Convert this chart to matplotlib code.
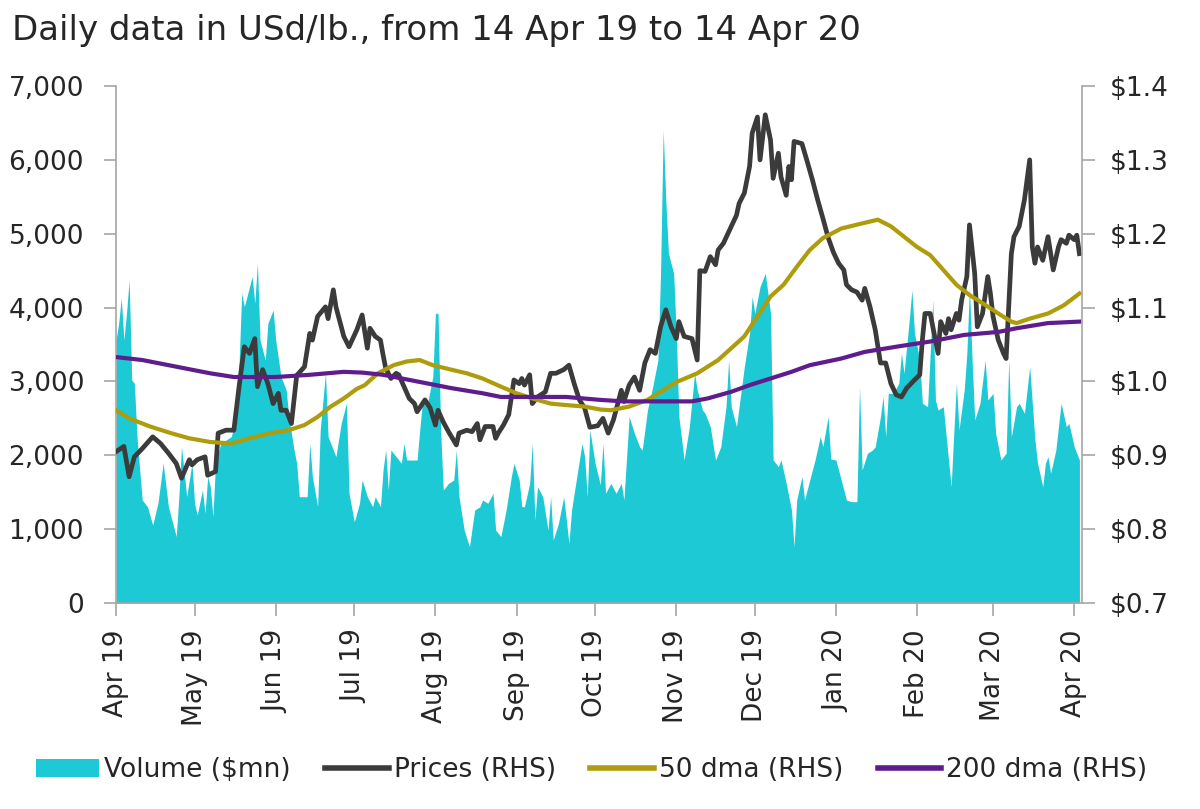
import matplotlib
matplotlib.use("Agg")
import matplotlib.pyplot as plt
from matplotlib.ticker import FuncFormatter, FixedLocator
from matplotlib.patches import Patch
from matplotlib.lines import Line2D
import pandas as pd

# days counted from 14 Apr 2019
start = pd.Timestamp("2019-04-14")

vol_day = [0, 1, 2, 3, 4, 5, 6, 7, 8, 10, 12, 14, 16, 18, 20, 21, 23, 24, 25, 27,
           29, 30, 31, 33, 34, 35, 36, 37, 38, 40, 42, 44, 45, 47, 48, 49, 51, 52, 53, 54,
           55, 57, 58, 60, 61, 63, 65, 66, 68, 69, 70, 73, 74, 75, 77, 78, 80, 81, 83, 84,
           86, 88, 89, 91, 93, 94, 96, 98, 99, 101, 102, 103, 104, 105, 107, 109, 110, 111, 113, 115,
           116, 117, 119, 121, 122, 123, 124, 125, 127, 129, 130, 131, 133, 135, 137, 139, 140, 142, 144, 145,
           147, 149, 151, 152, 154, 155, 156, 158, 159, 160, 161, 163, 165, 166, 167, 169, 171, 173, 174, 176,
           178, 179, 180, 181, 183, 185, 186, 187, 189, 191, 193, 194, 196, 198, 200, 201, 203, 205, 207, 208,
           209, 210, 211, 213, 214, 215, 217, 219, 221, 222, 224, 225, 227, 229, 231, 233, 234, 235, 237, 238,
           240, 242, 243, 244, 246, 248, 250, 251, 253, 254, 256, 258, 259, 260, 262, 263, 265, 267, 269, 270,
           272, 273, 275, 277, 279, 281, 283, 284, 285, 287, 289, 290, 292, 293, 294, 295, 297, 299, 300, 301,
           303, 304, 305, 307, 308, 310, 312, 313, 314, 316, 317, 319, 320, 321, 322, 324, 325, 326, 327, 328,
           330, 332, 333, 335, 336, 338, 340, 341, 342, 344, 345, 347, 349, 351, 352, 354, 355, 356, 357, 359,
           361, 363, 364, 366, 368]
volume = [3560, 3787, 4126, 3560, 3922, 4373, 3019, 2975, 2252, 1395, 1304, 1056, 1350, 1892, 1304, 1169, 899, 1439, 2116, 1439,
          1892, 1350, 1192, 1530, 1215, 1710, 1575, 1169, 1892, 2162, 2207, 2252, 2387, 3246, 4194, 4012, 4283, 4419, 4058, 4600,
          3560, 3290, 3787, 3967, 3560, 3064, 2884, 2523, 2072, 1892, 1439, 1439, 2162, 1710, 1304, 2343, 3115, 2252, 2072, 1981,
          2433, 2704, 1485, 1100, 1350, 1666, 1439, 1304, 1439, 1304, 1801, 2072, 1530, 2072, 1981, 1892, 2162, 1936, 1936, 1936,
          2343, 2704, 2704, 3064, 3922, 3922, 2343, 1530, 1620, 1666, 2072, 1439, 988, 762, 1259, 1304, 1395, 1350, 1485, 988,
          899, 1259, 1710, 1892, 1666, 1304, 1304, 1620, 2162, 1124, 1575, 1439, 988, 1439, 853, 1079, 1439, 808, 1259, 1710,
          2162, 1981, 1439, 2343, 1890, 1600, 2162, 1485, 1620, 1485, 1620, 1395, 2523, 2297, 2116, 2072, 2613, 2929, 3290, 4464,
          6404, 5457, 4735, 4464, 3652, 2523, 1936, 2387, 3110, 2884, 2613, 2568, 2387, 1936, 2116, 2658, 3290, 2658, 2387, 2658,
          3200, 3652, 4147, 3922, 4283, 4464, 3922, 1936, 1846, 1936, 1620, 1259, 762, 1395, 1710, 1395, 1666, 1936, 2252, 2116,
          2523, 1950, 1936, 1666, 1395, 1372, 1372, 2929, 1801, 2027, 2072, 2116, 2523, 2793, 2252, 2839, 2839, 2975, 3381, 3110,
          3832, 4238, 3652, 3290, 2704, 2658, 4103, 2748, 2613, 2658, 2297, 1575, 2297, 2975, 2343, 2884, 3381, 4283, 3290, 2478,
          2704, 3290, 2748, 2839, 2297, 1936, 2027, 3290, 2252, 2658, 2704, 2568, 3200, 2207, 1892, 1575, 1892, 1981, 1756, 2072,
          2704, 2387, 2433, 2116, 1936]

price_day = [0, 3, 5, 7, 10, 14, 17, 20, 23, 25, 28, 29, 31, 34, 35, 38, 39, 42, 45, 47,
             49, 51, 53, 54, 56, 58, 60, 62, 63, 65, 67, 69, 72, 74, 75, 77, 80, 81, 83, 84,
             87, 89, 92, 94, 96, 97, 99, 101, 102, 103, 105, 107, 108, 110, 112, 114, 115, 118, 120, 122,
             123, 125, 127, 130, 131, 134, 136, 138, 139, 141, 144, 145, 146, 148, 150, 152, 154, 155, 156, 158,
             159, 161, 164, 166, 168, 171, 173, 175, 177, 179, 181, 184, 186, 188, 190, 193, 194, 196, 198, 200,
             202, 204, 206, 208, 210, 212, 214, 215, 217, 220, 222, 223, 225, 227, 229, 230, 232, 235, 237, 238,
             240, 242, 243, 245, 246, 248, 250, 251, 253, 254, 256, 257, 258, 259, 262, 264, 266, 268, 270, 272,
             274, 276, 278, 279, 281, 283, 285, 286, 288, 290, 292, 294, 296, 298, 300, 302, 305, 307, 308, 309,
             311, 312, 314, 315, 317, 318, 319, 321, 322, 323, 325, 326, 328, 329, 331, 333, 334, 335, 337, 339,
             340, 342, 343, 345, 347, 349, 350, 351, 352, 354, 356, 358, 360, 361, 363, 364, 366, 367, 368]
price = [0.905, 0.912, 0.871, 0.898, 0.909, 0.925, 0.916, 0.903, 0.889, 0.869, 0.894, 0.887, 0.894, 0.898, 0.873, 0.878, 0.930, 0.934, 0.934, 0.993,
         1.047, 1.038, 1.058, 0.993, 1.016, 0.997, 0.970, 0.984, 0.961, 0.961, 0.943, 1.008, 1.020, 1.065, 1.056, 1.088, 1.101, 1.085, 1.124, 1.101,
         1.061, 1.047, 1.070, 1.090, 1.045, 1.072, 1.061, 1.056, 1.036, 1.018, 1.004, 1.011, 1.009, 0.993, 0.977, 0.970, 0.959, 0.975, 0.964, 0.941,
         0.961, 0.945, 0.932, 0.914, 0.930, 0.934, 0.932, 0.943, 0.921, 0.939, 0.939, 0.923, 0.930, 0.941, 0.955, 1.002, 0.997, 1.004, 0.995, 1.009,
         0.970, 0.979, 0.986, 1.011, 1.011, 1.016, 1.022, 0.997, 0.975, 0.964, 0.938, 0.940, 0.950, 0.930, 0.948, 0.988, 0.973, 0.995, 1.006, 0.988,
         1.025, 1.043, 1.038, 1.074, 1.097, 1.074, 1.058, 1.081, 1.061, 1.058, 1.029, 1.150, 1.149, 1.169, 1.158, 1.178, 1.187, 1.210, 1.225, 1.241,
         1.255, 1.291, 1.336, 1.358, 1.300, 1.361, 1.327, 1.275, 1.309, 1.277, 1.252, 1.291, 1.273, 1.325, 1.322, 1.298, 1.273, 1.246, 1.221, 1.195,
         1.175, 1.160, 1.151, 1.131, 1.124, 1.121, 1.110, 1.126, 1.101, 1.070, 1.025, 1.025, 0.997, 0.982, 0.979, 0.991, 1.002, 1.009, 1.056, 1.092,
         1.092, 1.074, 1.038, 1.081, 1.065, 1.085, 1.070, 1.092, 1.083, 1.110, 1.142, 1.212, 1.146, 1.074, 1.092, 1.142, 1.119, 1.088, 1.056, 1.038,
         1.031, 1.173, 1.196, 1.210, 1.246, 1.300, 1.182, 1.160, 1.182, 1.164, 1.196, 1.151, 1.182, 1.192, 1.187, 1.198, 1.192, 1.198, 1.173]

dma50_day = [0, 5, 13, 21, 28, 36, 44, 51, 59, 66, 72, 77, 82, 87, 92, 95, 100, 106, 111, 116,
             121, 128, 134, 140, 147, 153, 159, 166, 172, 179, 185, 189, 196, 203, 208, 214, 222, 230, 235, 240,
             245, 250, 255, 260, 265, 270, 277, 285, 291, 296, 301, 306, 311, 316, 321, 326, 331, 337, 342, 344,
             349, 356, 362, 368]
dma50 = [0.961, 0.950, 0.939, 0.930, 0.923, 0.918, 0.916, 0.923, 0.930, 0.934, 0.941, 0.952, 0.966, 0.977, 0.990, 0.995, 1.011, 1.022, 1.027, 1.029,
         1.022, 1.016, 1.011, 1.004, 0.993, 0.984, 0.977, 0.970, 0.968, 0.966, 0.962, 0.961, 0.966, 0.975, 0.986, 0.999, 1.011, 1.029, 1.045, 1.061,
         1.088, 1.115, 1.131, 1.155, 1.178, 1.194, 1.207, 1.214, 1.219, 1.210, 1.196, 1.182, 1.171, 1.151, 1.131, 1.117, 1.106, 1.092, 1.081, 1.079,
         1.085, 1.092, 1.103, 1.119]

dma200_day = [0, 10, 23, 36, 45, 61, 74, 87, 94, 102, 115, 128, 140, 147, 159, 172, 185, 194, 207, 220,
              226, 235, 242, 250, 258, 265, 277, 286, 298, 311, 324, 337, 344, 356, 368]
dma200 = [1.033, 1.029, 1.020, 1.011, 1.006, 1.006, 1.009, 1.013, 1.012, 1.009, 1.000, 0.991, 0.984, 0.979, 0.979, 0.979, 0.975, 0.973, 0.973, 0.973,
          0.977, 0.986, 0.995, 1.004, 1.013, 1.022, 1.031, 1.040, 1.047, 1.054, 1.063, 1.067, 1.072, 1.079, 1.081]

month_labels = ["Apr 19", "May 19", "Jun 19", "Jul 19", "Aug 19", "Sep 19", "Oct 19",
                "Nov 19", "Dec 19", "Jan 20", "Feb 20", "Mar 20", "Apr 20"]
vol_ticks = [0, 1000, 2000, 3000, 4000, 5000, 6000, 7000]
price_ticks = [0.7, 0.8, 0.9, 1.0, 1.1, 1.2, 1.3, 1.4]

CYAN = "#1CC9D4"
DARK = "#3B3B3B"
OLIVE = "#AE9C0C"
PURPLE = "#5F1C8C"
GREY = "#A6A6A6"
TXT = "#262626"

plt.rcParams["font.family"] = ["DejaVu Sans"]


def to_dates(days):
    return start + pd.to_timedelta(days, unit="D")


fig = plt.figure(figsize=(12, 8.09), dpi=100)
ax = fig.add_axes([0.0967, 0.2546, 0.805, 0.6391])
ax2 = ax.twinx()

ax.fill_between(to_dates(vol_day), volume, color=CYAN, linewidth=0)
ax2.plot(to_dates(price_day), price, color=DARK, lw=3.4, solid_joinstyle="round")
ax2.plot(to_dates(dma50_day), dma50, color=OLIVE, lw=3.0)
ax2.plot(to_dates(dma200_day), dma200, color=PURPLE, lw=3.0)

ax.set_ylim(0, 7000)
ax2.set_ylim(0.7, 1.4)
ax.set_xlim(start, start + pd.Timedelta(days=369))
ax.yaxis.set_major_locator(FixedLocator(vol_ticks))
ax2.yaxis.set_major_locator(FixedLocator(price_ticks))
ax.yaxis.set_major_formatter(FuncFormatter(lambda v, p: f"{v:,.0f}"))
ax2.yaxis.set_major_formatter(FuncFormatter(lambda v, p: f"${v:.1f}"))

tick_dates = [start + pd.DateOffset(months=i) for i in range(len(month_labels))]
ax.set_xticks(tick_dates)
ax.set_xticklabels(month_labels, rotation=90)

for a in (ax, ax2):
    a.spines["top"].set_visible(False)
    for s in a.spines.values():
        s.set_color(GREY)
        s.set_linewidth(1.2)
    a.tick_params(length=9, width=1.2, color=GREY, labelsize=19, labelcolor=TXT)
ax.spines["right"].set_visible(False)
ax2.spines["left"].set_visible(False)
ax2.spines["bottom"].set_visible(False)
ax.tick_params(axis="y", pad=14)
ax.tick_params(axis="x", pad=10)
ax2.tick_params(axis="y", pad=11)

fig.text(0.01, 0.962, "Daily data in USd/lb., from 14 Apr 19 to 14 Apr 20",
         fontsize=24.5, color=TXT, va="center", ha="left")

handles = [Patch(facecolor=CYAN, edgecolor="none"),
           Line2D([], [], color=DARK, lw=4),
           Line2D([], [], color=OLIVE, lw=4),
           Line2D([], [], color=PURPLE, lw=4)]
labels = ["Volume ($mn)", "Prices (RHS)", "50 dma (RHS)", "200 dma (RHS)"]
fig.legend(handles, labels, loc="center", bbox_to_anchor=(0.493, 0.048), ncol=4,
           frameon=False, fontsize=19, handlelength=2.4, handletextpad=0.2,
           columnspacing=1.3, labelcolor=TXT)

fig.savefig("out.png", dpi=100)
